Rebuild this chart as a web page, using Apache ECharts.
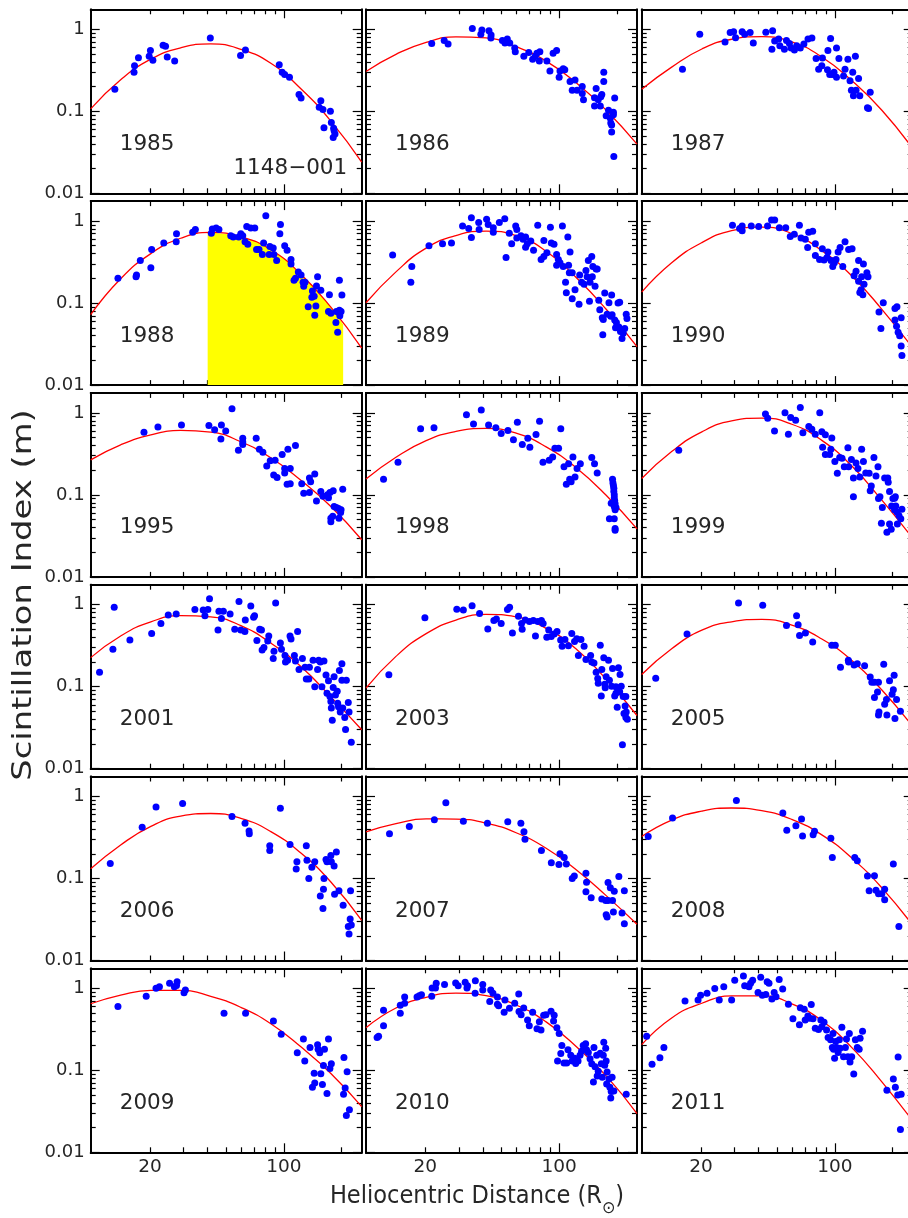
<!DOCTYPE html>
<html><head><meta charset="utf-8">
<script src="https://cdn.jsdelivr.net/npm/echarts@6/dist/echarts.min.js"></script>
<style>html,body{margin:0;padding:0;background:#fff}#c{width:908px;height:1218px}</style>
</head><body><div id="c"></div>
<script>
// ---------------- data ----------------
const years = [1985,1986,1987,1988,1989,1990,1995,1998,1999,2001,2003,2005,2006,2007,2008,2009,2010,2011];
const sourceName = '1148\u2212001';
const xTickLabels = [20, 100];
const xMajorTicks = [100];
const xMinorTicks = [20,30,40,50,60,70,80,90,200];
const yTickLabels = [0.01, 0.1, 1];
const yMajorTicks = [0.01, 0.1, 1];
const yMinorTicks = [0.02,0.03,0.04,0.05,0.06,0.07,0.08,0.09,0.2,0.3,0.4,0.5,0.6,0.7,0.8,0.9];
// distances at which the fitted (red) curves were read
const curveR = [9.8,14.05,20.2,28.9,41.5,59.6,85.5,122.7,176,255];

const d1985 = [[13.1,0.186],[16.5,0.30],[16.6,0.36],[17.4,0.45],[19.8,0.47],[20.1,0.55],[20.7,0.42],[23.4,0.64],[24.1,0.62],[24.6,0.46],[26.9,0.41],[41.3,0.78],[59.4,0.48],[63,0.56],[94.6,0.37],[98,0.30],[101,0.28],[107,0.26],[120,0.16],[123,0.145],[153,0.112],[156,0.134],[160,0.105],[162,0.063],[175,0.10],[177,0.073],[182,0.062],[181,0.048],[185,0.053],[183,0.058]];
const c1985 = [0.107,0.242,0.433,0.594,0.662,0.570,0.385,0.188,0.0759,0.024];

const d1986 = [[21.6,0.67],[25.1,0.73],[26.3,0.66],[35.2,1.02],[39,0.87],[39.5,0.98],[43,0.96],[44.1,0.85],[44,0.78],[50.5,0.73],[52.1,0.68],[53.6,0.76],[55.2,0.68],[58.6,0.59],[59,0.53],[65.4,0.47],[69.4,0.52],[72.7,0.43],[75,0.47],[76.5,0.51],[79.3,0.53],[78.8,0.41],[86.3,0.41],[89.5,0.31],[93,0.51],[97,0.55],[100,0.26],[101,0.31],[105,0.33],[107,0.32],[114,0.23],[117,0.18],[121,0.24],[124,0.18],[132,0.165],[134,0.138],[132,0.20],[153,0.116],[156,0.19],[153,0.146],[160,0.138],[165,0.15],[164,0.116],[167,0.16],[171,0.23],[171,0.30],[176,0.088],[181,0.103],[186,0.072],[188,0.056],[188,0.068],[192,0.091],[192,0.097],[195,0.145],[193,0.028],[185,0.082]];
const c1986 = [0.306,0.494,0.693,0.805,0.785,0.612,0.409,0.222,0.103,0.0398];

const d1987 = [[16,0.325],[19.7,0.87],[26.7,0.70],[28.4,0.91],[29.6,0.93],[30.3,0.79],[32.8,0.93],[33.8,0.87],[36.1,0.91],[37.5,0.68],[43.6,0.92],[47.3,0.96],[46.9,0.57],[48.5,0.72],[50.9,0.76],[51.6,0.63],[54.5,0.57],[55.9,0.73],[57.9,0.67],[59.1,0.59],[61.5,0.56],[63.2,0.63],[66,0.59],[68.9,0.66],[72.4,0.76],[75.9,0.78],[79.8,0.44],[82.3,0.325],[86.1,0.445],[85.5,0.36],[91.5,0.32],[92,0.55],[95,0.77],[97,0.28],[99,0.30],[102,0.59],[102,0.26],[105,0.44],[111,0.27],[113,0.325],[117,0.43],[120,0.235],[124,0.30],[122,0.18],[128,0.47],[125,0.155],[129,0.18],[133,0.25],[135,0.155],[148,0.11],[150,0.108],[153,0.17],[94,0.28]];
const c1987 = [0.186,0.345,0.574,0.755,0.813,0.700,0.459,0.236,0.103,0.0352];

const d1988 = [[13.6,0.20],[16.9,0.21],[17,0.22],[17.8,0.33],[20.2,0.27],[20.4,0.45],[23.6,0.54],[27.4,0.56],[27.5,0.70],[33.4,0.73],[34.5,0.79],[41.8,0.71],[42.3,0.80],[44.3,0.82],[45.8,0.79],[52.8,0.66],[54.4,0.64],[58.1,0.64],[59.6,0.70],[61,0.66],[62.7,0.56],[64,0.86],[64.8,0.52],[67.2,0.82],[70.5,0.82],[72,0.45],[74.2,0.45],[77.2,0.39],[78.4,0.54],[80.5,1.16],[83.8,0.39],[84.5,0.49],[88,0.47],[88.7,0.39],[91.7,0.33],[95.3,0.70],[96,0.91],[101,0.50],[104,0.44],[109,0.34],[109,0.30],[119,0.24],[113,0.19],[115,0.20],[123,0.22],[126,0.18],[127,0.16],[129,0.18],[134,0.090],[140,0.118],[141,0.14],[144,0.121],[145,0.071],[147,0.092],[148,0.162],[150,0.21],[156,0.143],[173,0.126],[171,0.079],[176,0.075],[187,0.058],[191,0.044],[195,0.19],[195,0.082],[199,0.079],[201,0.125],[196,0.07],[188,0.079]];
const c1988 = [0.0723,0.198,0.401,0.617,0.726,0.643,0.446,0.225,0.0891,0.0282];
const fill1988 = [[40,0.72],[59.6,0.643],[85.5,0.446],[122.7,0.225],[176,0.0891],[204,0.055]];

const d1989 = [[13.5,0.385],[17,0.28],[16.8,0.18],[20.9,0.50],[24.6,0.53],[27.4,0.54],[31.3,0.87],[33.7,0.81],[34.8,1.10],[34.8,0.63],[38,0.96],[38.2,0.79],[41.8,1.05],[42.6,0.91],[45.3,0.83],[45.3,0.73],[48.7,0.96],[52,1.07],[52.8,0.36],[54.9,0.71],[56.5,0.53],[59.3,0.87],[60.1,0.79],[60.1,0.62],[63.2,0.66],[64.8,0.60],[66.8,0.64],[66.8,0.48],[68.2,0.53],[71.1,0.57],[73.5,0.44],[77.3,0.89],[80.5,0.34],[83.2,0.37],[86.3,0.41],[83.2,0.58],[90,0.84],[91,0.54],[94,0.52],[97,0.39],[97,0.29],[99,0.34],[101,0.31],[104,0.87],[105,0.28],[108,0.18],[109,0.134],[111,0.64],[112,0.29],[114,0.42],[113,0.235],[117,0.235],[117,0.113],[121,0.145],[127,0.097],[128,0.22],[131,0.18],[135,0.17],[138,0.25],[140,0.21],[142,0.33],[144,0.105],[145,0.18],[148,0.37],[149,0.21],[150,0.28],[154,0.16],[156,0.26],[158,0.26],[161,0.108],[163,0.083],[168,0.066],[169,0.041],[170,0.063],[173,0.133],[178,0.073],[182,0.101],[188,0.125],[189,0.072],[195,0.062],[199,0.058],[203,0.10],[207,0.102],[205,0.051],[209,0.045],[213,0.037],[216,0.043],[220,0.049],[224,0.073],[226,0.065],[197,0.05],[186,0.069]];
const c1989 = [0.101,0.240,0.467,0.665,0.754,0.664,0.429,0.205,0.0841,0.0294];

const d1990 = [[29.2,0.89],[31.8,0.81],[32.8,0.87],[32.8,0.76],[36.6,0.87],[40,0.86],[44.5,0.87],[46.7,1.03],[48.5,1.03],[51.3,0.83],[55.4,0.83],[58.5,0.65],[61.4,0.69],[65.3,0.89],[66.6,0.62],[70.1,0.60],[72.1,0.475],[73,0.73],[76.6,0.75],[79.1,0.53],[79.1,0.38],[83.2,0.34],[86,0.46],[87.8,0.335],[91,0.36],[92,0.42],[95.5,0.33],[97.5,0.28],[99.4,0.31],[101.4,0.34],[104,0.42],[106.5,0.475],[110,0.28],[113,0.56],[118,0.45],[123,0.46],[126,0.215],[129,0.245],[133,0.33],[133,0.185],[135,0.135],[137,0.145],[140,0.126],[141,0.30],[138,0.21],[147,0.235],[149,0.21],[142,0.17],[170,0.078],[174,0.049],[179,0.101],[206,0.086],[211,0.09],[206,0.062],[210,0.052],[214,0.044],[218,0.040],[222,0.066],[222,0.030],[224,0.023]];
const c1990 = [0.136,0.310,0.546,0.764,0.843,0.705,0.436,0.214,0.0838,0.0284];

const d1995 = [[18.6,0.58],[22,0.67],[29.2,0.71],[40.6,0.70],[43.5,0.62],[46.9,0.48],[47.2,0.71],[49.7,0.60],[53.6,1.12],[57.9,0.35],[61,0.49],[61,0.41],[61,0.44],[71.7,0.49],[74.5,0.36],[77.7,0.33],[81.4,0.225],[84.9,0.26],[88.5,0.175],[90,0.265],[92.2,0.163],[98,0.31],[101,0.185],[101,0.21],[104,0.135],[105,0.36],[108,0.21],[108,0.137],[115,0.40],[124,0.137],[127,0.105],[136,0.16],[138,0.145],[136,0.107],[145,0.18],[148,0.084],[156,0.11],[160,0.096],[169,0.10],[171,0.092],[174,0.107],[176,0.052],[176,0.047],[180,0.055],[181,0.112],[183,0.072],[188,0.070],[193,0.068],[194,0.052],[199,0.066],[203,0.117],[198,0.061]];
const c1995 = [0.267,0.407,0.538,0.610,0.581,0.444,0.283,0.151,0.0721,0.0284];

const d1998 = [[12.1,0.155],[14.4,0.25],[18.9,0.64],[22.2,0.66],[32.8,0.95],[35.7,0.73],[39.2,1.08],[42.8,0.71],[46.7,0.66],[49.8,0.56],[54,0.61],[57.7,0.47],[60.5,0.77],[64.2,0.41],[68.6,0.49],[70.3,0.38],[75.7,0.545],[79,0.79],[82.3,0.25],[88.7,0.265],[92.5,0.29],[95,0.37],[99.3,0.37],[102,0.64],[106,0.22],[109,0.135],[112,0.24],[113.5,0.155],[115.5,0.145],[118,0.29],[121,0.165],[124,0.21],[129,0.24],[148,0.285],[153,0.24],[158,0.185],[190,0.155],[191,0.14],[192,0.13],[193,0.12],[193,0.11],[194,0.10],[194,0.092],[195,0.085],[196,0.078],[194,0.072],[196,0.066],[198,0.07],[187,0.079],[183,0.051],[194,0.051],[196,0.039],[196,0.037]];
const c1998 = [0.156,0.287,0.458,0.594,0.646,0.565,0.385,0.214,0.0989,0.0385];

const d1999 = [[15.3,0.35],[43.4,0.97],[44.6,0.86],[48.4,0.60],[54.9,1.0],[57.2,0.55],[58.8,0.88],[62.4,0.81],[66,1.16],[68.1,0.57],[73.1,0.68],[75.8,0.63],[79,0.55],[83.4,1.0],[85.5,0.59],[86.3,0.38],[89.2,0.54],[89.2,0.31],[94,0.31],[96.4,0.495],[95.3,0.36],[100,0.255],[103,0.183],[106,0.285],[109,0.28],[112,0.22],[117,0.375],[118,0.22],[122,0.27],[125,0.16],[125,0.095],[129,0.245],[132,0.21],[135,0.165],[138,0.36],[141,0.255],[145,0.185],[151,0.183],[153,0.112],[155,0.128],[160,0.285],[164,0.17],[168,0.22],[169,0.09],[172,0.095],[175,0.045],[177,0.070],[182,0.16],[189,0.16],[190,0.143],[193,0.11],[187,0.035],[193,0.044],[197,0.038],[198,0.073],[201,0.09],[205,0.091],[207,0.095],[205,0.066],[211,0.062],[212,0.044],[216,0.056],[221,0.051],[224,0.067],[208,0.073]];
const c1999 = [0.158,0.337,0.586,0.796,0.863,0.726,0.462,0.225,0.0861,0.0296];

const d2001 = [[10.9,0.15],[13,0.93],[12.8,0.285],[15.7,0.37],[20.4,0.445],[22.8,0.59],[24.9,0.75],[27.4,0.77],[34.3,0.87],[37.9,0.86],[38.7,0.73],[40.1,0.87],[40.9,1.18],[45.3,0.49],[45.8,0.83],[47.2,0.68],[48.3,0.83],[52.4,0.77],[55.4,0.50],[58.3,1.09],[59.6,0.49],[62.6,0.47],[62.9,0.65],[67.2,0.96],[70.3,0.73],[69.5,0.70],[72.3,0.365],[74.8,0.50],[76.4,0.49],[77,0.28],[78.7,0.30],[82.4,0.36],[83.4,0.415],[88,0.22],[88.8,0.27],[90.6,1.05],[95.9,0.34],[97.2,0.285],[101.4,0.24],[102,0.20],[104.6,0.21],[107.7,0.415],[109,0.38],[113.5,0.24],[115,0.205],[118,0.47],[120,0.162],[125,0.22],[129,0.172],[131,0.124],[135,0.124],[136,0.172],[142,0.21],[145,0.10],[150,0.162],[152,0.21],[155,0.20],[158,0.10],[162,0.205],[166,0.139],[168,0.083],[171,0.118],[174,0.076],[176,0.066],[177,0.055],[179,0.039],[181,0.098],[183,0.132],[186,0.079],[190,0.088],[191,0.063],[193,0.057],[195,0.157],[197,0.049],[201,0.12],[201,0.19],[203,0.055],[208,0.042],[210,0.030],[212,0.12],[217,0.064],[219,0.049],[225,0.021]];
const c2001 = [0.226,0.415,0.617,0.735,0.710,0.555,0.340,0.176,0.075,0.0298];

const d2003 = [[12.9,0.14],[19.9,0.69],[29.2,0.88],[31.6,0.86],[35.1,0.97],[38.4,0.78],[42.4,0.505],[45.6,0.64],[47,0.67],[49.8,0.59],[53.7,0.87],[55.1,0.93],[57,0.45],[61.3,0.72],[63.6,0.59],[64.1,0.50],[66.5,0.65],[70,0.625],[73.3,0.64],[75.2,0.415],[77.4,0.625],[80.8,0.64],[82.5,0.59],[86.2,0.40],[88.2,0.49],[90.9,0.41],[94.2,0.44],[97.5,0.47],[101.8,0.37],[103.6,0.31],[107.2,0.375],[111.8,0.315],[116.4,0.445],[120.3,0.355],[123.6,0.385],[126,0.24],[130,0.375],[135,0.31],[138,0.215],[146,0.24],[148,0.20],[152,0.195],[156,0.15],[159,0.126],[160,0.11],[164,0.32],[166,0.077],[167,0.162],[171,0.225],[173,0.107],[176,0.132],[181,0.21],[183,0.12],[188,0.101],[190,0.167],[195,0.077],[198,0.10],[201,0.056],[204,0.17],[207,0.087],[208,0.141],[211,0.101],[214,0.0196],[216,0.076],[218,0.047],[221,0.058],[223,0.076],[223,0.042],[227,0.040],[224,0.049],[198,0.083],[174,0.097]];
const c2003 = [0.096,0.234,0.443,0.649,0.762,0.711,0.513,0.288,0.123,0.0445];

const d2005 = [[11.6,0.127],[16.9,0.44],[31.4,1.05],[42,0.98],[55.9,0.555],[63.1,0.73],[64.3,0.57],[65.4,0.42],[70.2,0.45],[76.6,0.35],[96.4,0.32],[100.5,0.32],[107,0.172],[117.6,0.21],[118,0.20],[126,0.184],[131,0.19],[143,0.18],[153,0.131],[156,0.113],[161,0.074],[161,0.113],[167,0.086],[169,0.113],[169,0.045],[170,0.049],[180,0.187],[182,0.061],[186,0.070],[187,0.045],[193,0.118],[199,0.081],[202,0.092],[204,0.138],[206,0.041],[210,0.070],[220,0.050]];
const c2005 = [0.141,0.290,0.488,0.618,0.661,0.564,0.381,0.209,0.091,0.0327];

const d2006 = [[12.4,0.152],[18.2,0.42],[21.5,0.745],[29.6,0.82],[53.6,0.57],[62.7,0.47],[65.8,0.38],[66,0.35],[84.4,0.25],[84.4,0.22],[95.9,0.72],[107.7,0.26],[117,0.16],[116,0.13],[131,0.25],[132,0.167],[135,0.10],[140,0.137],[145,0.16],[155,0.061],[160,0.043],[162,0.10],[161,0.074],[166,0.17],[168,0.16],[176,0.19],[177,0.16],[183,0.142],[184,0.064],[188,0.21],[194,0.071],[204,0.047],[217,0.026],[222,0.032],[219,0.021],[225,0.027],[223,0.071]];
const c2006 = [0.131,0.256,0.431,0.577,0.619,0.540,0.373,0.204,0.0906,0.0308];

const d2007 = [[13,0.35],[16.5,0.43],[22.3,0.52],[25.6,0.84],[31.6,0.50],[42.2,0.47],[53.9,0.49],[63.1,0.47],[65.5,0.37],[66.3,0.30],[80.8,0.22],[91,0.155],[99.7,0.148],[101,0.20],[106.3,0.18],[109,0.15],[117,0.10],[120,0.107],[138,0.116],[139,0.09],[138,0.069],[147,0.058],[167,0.056],[176,0.036],[178,0.034],[180,0.089],[180,0.054],[185,0.077],[190,0.054],[192,0.039],[194,0.07],[205,0.106],[213,0.038],[219,0.071],[219,0.028],[175,0.054]];
const c2007 = [0.370,0.465,0.532,0.530,0.473,0.361,0.234,0.128,0.0618,0.0276];

const d2008 = [[10.6,0.325],[14.2,0.545],[30.6,0.89],[53.5,0.63],[56.1,0.386],[62.6,0.44],[67,0.53],[67.8,0.33],[77,0.34],[78.3,0.376],[95.3,0.31],[97,0.18],[127,0.18],[131,0.165],[148,0.107],[151,0.071],[161,0.108],[164,0.072],[169,0.065],[176,0.065],[182,0.074],[182,0.055],[202,0.15],[216,0.026]];
const c2008 = [0.325,0.515,0.663,0.723,0.671,0.525,0.340,0.177,0.0769,0.0268];

const d2009 = [[13.6,0.60],[19.1,0.80],[21.5,1.0],[22.4,1.04],[25.3,1.15],[26.8,1.04],[27.5,1.08],[27.7,1.20],[30.1,0.88],[30.6,0.95],[48.7,0.495],[63.1,0.495],[88.2,0.40],[96.9,0.275],[117.5,0.163],[126.5,0.24],[128.6,0.13],[137,0.19],[141,0.062],[144,0.092],[150,0.205],[151,0.18],[154,0.163],[156,0.091],[159,0.067],[161,0.114],[163,0.18],[168,0.052],[171,0.24],[174,0.105],[177,0.12],[206,0.143],[205,0.051],[209,0.061],[214,0.096],[212,0.028],[220,0.033],[145,0.07]];
const c2009 = [0.647,0.824,0.944,0.940,0.798,0.585,0.369,0.193,0.0914,0.0361];

const d2010 = [[11.2,0.25],[11.4,0.26],[12.1,0.35],[12.1,0.54],[14.8,0.495],[14.8,0.62],[15.6,0.78],[15.6,0.656],[18.1,0.78],[18.6,0.81],[19.1,0.83],[21.6,0.80],[21.7,1.01],[22.6,1.01],[22.8,1.15],[25.2,1.11],[28.8,1.16],[29.7,1.07],[32.3,1.18],[33,1.01],[33.2,1.07],[36.4,0.87],[36.5,1.23],[39.9,1.11],[39.9,0.95],[43.4,0.69],[43.9,0.95],[45.1,0.87],[47.6,0.78],[47.6,0.64],[48.3,0.61],[51.6,0.51],[52.1,0.72],[55,0.57],[58.6,0.656],[61.5,0.85],[61.7,0.52],[63.3,0.475],[65.3,0.575],[68.4,0.41],[69.8,0.35],[72.7,0.51],[76.6,0.32],[78.8,0.39],[80.4,0.31],[83,0.47],[85.3,0.475],[90.7,0.525],[94.2,0.47],[93.5,0.40],[97.3,0.33],[100,0.28],[98.1,0.13],[102,0.16],[103.3,0.20],[106,0.123],[109.5,0.123],[111.2,0.178],[115,0.152],[117,0.13],[120.5,0.14],[122,0.121],[125.5,0.13],[128.5,0.152],[131,0.17],[133.5,0.20],[137.5,0.21],[139,0.178],[142,0.165],[145,0.138],[148,0.12],[151,0.072],[152,0.19],[154,0.11],[157,0.152],[158,0.085],[160,0.097],[164,0.161],[166,0.12],[168,0.082],[170,0.152],[171,0.22],[173,0.115],[175,0.185],[176,0.13],[177,0.068],[178,0.095],[182,0.078],[184,0.062],[186,0.046],[187,0.055],[189,0.082],[193,0.056],[224,0.051]];
const c2010 = [0.330,0.574,0.776,0.873,0.811,0.625,0.389,0.195,0.0853,0.0297];

const d2011 = [[10.4,0.26],[11.1,0.118],[12.2,0.142],[12.8,0.19],[16.5,0.70],[19.3,0.72],[19.9,0.82],[21.5,0.87],[23.6,0.99],[24.9,0.72],[26.3,1.04],[28.9,0.72],[30,1.25],[33.3,1.41],[33.8,1.07],[35.6,1.04],[36.3,1.15],[37.2,1.25],[39.7,0.89],[41,1.36],[41.8,0.82],[43.6,0.84],[44.3,1.20],[45.3,1.15],[46.9,0.74],[48.2,0.89],[49.3,0.79],[51.2,1.28],[53.4,0.98],[57.2,0.64],[60.4,0.425],[65.3,0.36],[66,0.58],[69.2,0.555],[70,0.41],[72.3,0.46],[73.8,0.43],[75.3,0.635],[76.9,0.425],[79,0.325],[82.2,0.315],[84.5,0.41],[85.5,0.34],[87.8,0.385],[90.5,0.31],[92.2,0.25],[95,0.235],[97,0.19],[97.8,0.28],[98.5,0.18],[99.7,0.14],[101,0.225],[102,0.19],[104,0.165],[105.5,0.235],[106.4,0.185],[108.8,0.335],[111,0.146],[113.5,0.19],[115,0.24],[117,0.146],[119,0.28],[120,0.126],[122.5,0.146],[125.5,0.09],[128,0.235],[131,0.19],[134,0.18],[135.5,0.245],[139.5,0.30],[187,0.057],[202,0.078],[207,0.062],[214,0.145],[213,0.050],[222,0.051],[220,0.019]];
const c2011 = [0.205,0.434,0.656,0.805,0.809,0.646,0.402,0.189,0.0721,0.0241];

const points = [d1985,d1986,d1987,d1988,d1989,d1990,d1995,d1998,d1999,d2001,d2003,d2005,d2006,d2007,d2008,d2009,d2010,d2011];
const curves = [c1985,c1986,c1987,c1988,c1989,c1990,c1995,c1998,c1999,c2001,c2003,c2005,c2006,c2007,c2008,c2009,c2010,c2011];
const fills = {1988: fill1988};

// ---------------- layout / style ----------------
const X_MIN = 9.8, X_MAX = 255, Y_MIN = 0.01, Y_MAX = 1.75;
const colLeft = [90.7, 366, 641.7];
const rowTop = [9.3, 201.1, 392.9, 584.7, 776.5, 968.3];
const W = 271, H = 184;
const FONT = '"DejaVu Sans", "Liberation Sans", sans-serif';
const TXT = '#262626';
const lg = Math.log10;
const fmt = v => String(parseFloat(Math.pow(10, v).toPrecision(2)));
const SMOOTH = 0.5;

function axisCommon(gi, pos, ticks, len, labels, isX) {
  return {
    type: 'value', gridIndex: gi, position: pos,
    min: lg(isX ? X_MIN : Y_MIN), max: lg(isX ? X_MAX : Y_MAX),
    axisLine: { show: true, onZero: false, lineStyle: { color: '#000', width: 1.8 } },
    axisTick: { show: true, inside: true, length: len, customValues: ticks.map(lg),
                lineStyle: { color: '#000', width: 1.2 } },
    axisLabel: labels ? { show: true, customValues: labels.map(lg), formatter: v => fmt(v),
                          fontFamily: FONT, fontSize: isX ? 18.5 : 18, color: TXT,
                          margin: isX ? 5 : 6 } : { show: false },
    splitLine: { show: false }, splitArea: { show: false }
  };
}

const grids = [], xAxes = [], yAxes = [], series = [], graphics = [];
years.forEach((yr, i) => {
  const r = Math.floor(i / 3), c = i % 3;
  grids.push({ left: colLeft[c], top: rowTop[r], width: W, height: H, containLabel: false, outerBoundsMode: 'none' });
  const xi = xAxes.length, yi = yAxes.length;
  xAxes.push(axisCommon(i, 'bottom', xMajorTicks, 9, r === 5 ? xTickLabels : null, true));
  xAxes.push(axisCommon(i, 'bottom', xMinorTicks, 5, null, true));
  xAxes.push(axisCommon(i, 'top', xMajorTicks, 9, null, true));
  xAxes.push(axisCommon(i, 'top', xMinorTicks, 5, null, true));
  yAxes.push(axisCommon(i, 'left', yMajorTicks, 9, c === 0 ? yTickLabels : null, false));
  yAxes.push(axisCommon(i, 'left', yMinorTicks, 5, null, false));
  yAxes.push(axisCommon(i, 'right', yMajorTicks, 9, null, false));
  yAxes.push(axisCommon(i, 'right', yMinorTicks, 5, null, false));

  if (fills[yr]) {
    series.push({ type: 'line', xAxisIndex: xi, yAxisIndex: yi, smooth: SMOOTH, symbol: 'none',
      data: fills[yr].map(p => [lg(p[0]), lg(p[1])]),
      lineStyle: { width: 0, opacity: 0 }, areaStyle: { color: '#ffff00', opacity: 1, origin: 'start' },
      z: 1, silent: true });
  }
  series.push({ type: 'line', xAxisIndex: xi, yAxisIndex: yi, smooth: SMOOTH, symbol: 'none',
    data: curveR.map((rr, k) => [lg(rr), lg(curves[i][k])]),
    lineStyle: { color: '#ff0000', width: 1.3 }, z: 2, silent: true });
  series.push({ type: 'scatter', xAxisIndex: xi, yAxisIndex: yi, symbol: 'circle', symbolSize: 7,
    data: points[i].map(p => [lg(p[0]), lg(p[1])]),
    itemStyle: { color: '#0000ff', opacity: 1 }, z: 3, silent: true });

  graphics.push({ type: 'text', x: colLeft[c] + 29, y: rowTop[r] + 135,
    style: { text: String(yr), font: '21.5px ' + FONT, fill: TXT, textAlign: 'left', textVerticalAlign: 'middle' } });
});
graphics.push({ type: 'text', x: colLeft[0] + 256.5, y: rowTop[0] + 159,
  style: { text: sourceName, font: '21.5px ' + FONT, fill: TXT, textAlign: 'right', textVerticalAlign: 'middle' } });
graphics.push({ type: 'text', x: 24, y: 595, rotation: Math.PI / 2, scaleX: 1.3,
  style: { text: 'Scintillation Index (m)', font: '26px ' + FONT, fill: TXT, textAlign: 'center', textVerticalAlign: 'middle' } });
graphics.push({ type: 'text', x: 477, y: 1197, scaleX: 0.94,
  style: { text: 'Heliocentric Distance (R{s|\u2299})', font: '24px ' + FONT, fill: TXT,
    textAlign: 'center', textVerticalAlign: 'middle',
    rich: { s: { font: '17px ' + FONT, fill: TXT, verticalAlign: 'bottom', padding: [0, 0, -8, 0] } } } });

const chart = echarts.init(document.getElementById('c'), null, { renderer: 'canvas', width: 908, height: 1218 });
chart.setOption({
  animation: false, backgroundColor: '#ffffff',
  grid: grids, xAxis: xAxes, yAxis: yAxes, series: series, graphic: graphics
});
</script></body></html>
